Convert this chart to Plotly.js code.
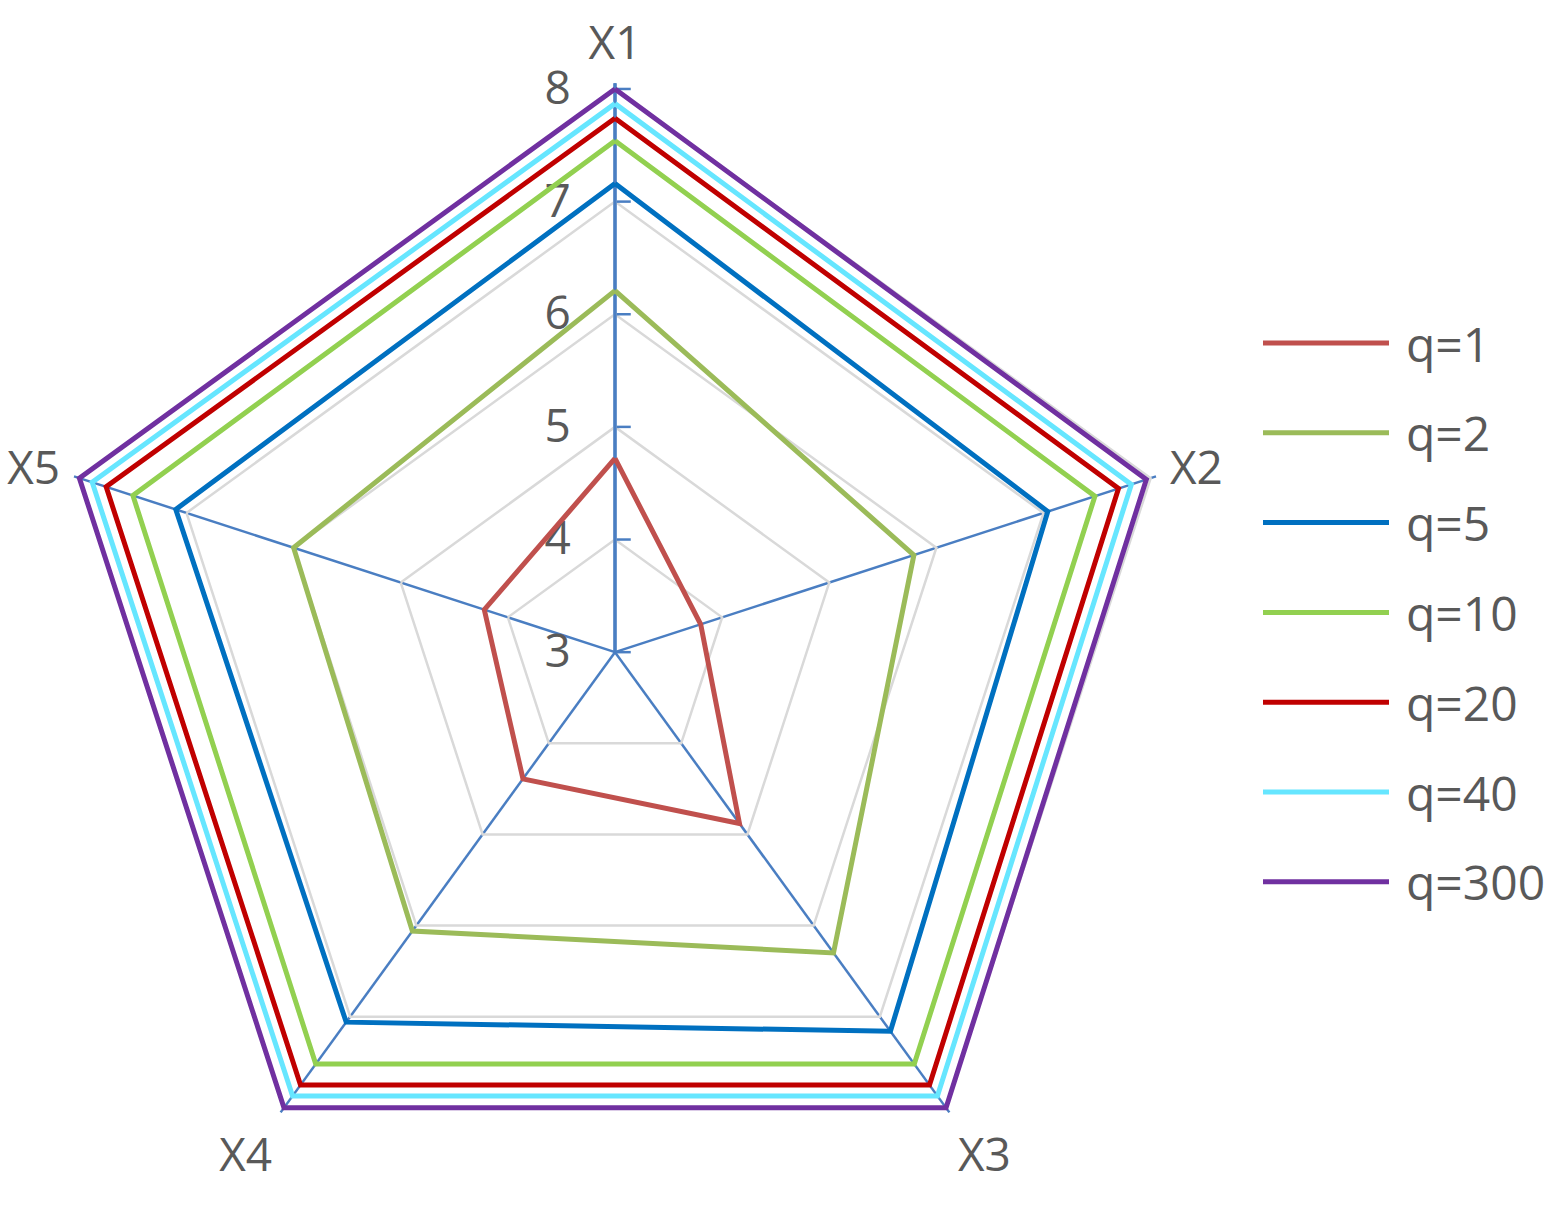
<!DOCTYPE html>
<html>
<head>
<meta charset="utf-8">
<script src="https://cdn.plot.ly/plotly-3.0.1.min.js"></script>
<style>
  html, body { margin: 0; padding: 0; background: #fff; overflow: hidden; }
  #radar { width: 1561px; height: 1221px; }
</style>
</head>
<body>
<div id="radar"></div>
<script>
// axes of the radar
var categories = ['X1', 'X2', 'X3', 'X4', 'X5'];

// values, one list per q
var q1   = [4.72, 3.80, 4.88, 4.39, 4.22];
var q2   = [6.21, 5.79, 6.30, 6.06, 6.00];
var q5   = [7.16, 7.04, 7.16, 7.06, 7.10];
var q10  = [7.54, 7.48, 7.52, 7.52, 7.50];
var q20  = [7.74, 7.70, 7.75, 7.75, 7.75];
var q40  = [7.87, 7.82, 7.87, 7.87, 7.88];
var q300 = [8.00, 7.96, 8.00, 8.00, 8.00];

var seriesNames = ['q=1', 'q=2', 'q=5', 'q=10', 'q=20', 'q=40', 'q=300'];
var seriesValues = [q1, q2, q5, q10, q20, q40, q300];
var seriesColors = ['#C0504D', '#9BBB59', '#0070C0', '#92D050', '#C00000', '#66E6FF', '#7030A0'];

var radialTicks = [3, 4, 5, 6, 7, 8];
var radialRange = [3, 8.05]; // a little headroom so the r=8 line is not clipped

var textColor = '#595959';
var axisBlue = '#4A7EC2';
var fontFam = '"Open Sans", "Liberation Sans", sans-serif';

// invisible trailing digit pushes the tick numbers away from the axis line
var radialText = radialTicks.map(function (v) {
  return v + '<span style="color:rgba(0,0,0,0)">0</span>';
});

// plot is a bit taller than the window so the pentagon sits where it should
var W = 1561, H = 1221, CX = 615;
var R = 566 * (radialRange[1] - radialRange[0]) / 5;

var data = [];
for (var i = 0; i < seriesNames.length; i++) {
  var vals = seriesValues[i];
  data.push({
    type: 'scatterpolar',
    mode: 'lines',
    name: seriesNames[i],
    r: vals.concat([vals[0]]),
    theta: categories.concat([categories[0]]),
    line: {color: seriesColors[i], width: 5},
    cliponaxis: false,
    hoverinfo: 'skip',
    showlegend: false
  });
}

// legend drawn by hand so the long line samples fit
var shapes = [];
var annotations = [];
for (var j = 0; j < seriesNames.length; j++) {
  var yy = (H - 343 - j * 89.8) / H;
  shapes.push({
    type: 'line', xref: 'paper', yref: 'paper',
    x0: 1263 / W, x1: 1389 / W, y0: yy, y1: yy,
    line: {color: seriesColors[j], width: 5}
  });
  annotations.push({
    xref: 'paper', yref: 'paper', x: 1404 / W, y: yy,
    xanchor: 'left', yanchor: 'middle', showarrow: false,
    text: seriesNames[j],
    font: {family: fontFam, size: 48, color: textColor}
  });
}

var layout = {
  width: W,
  height: H,
  margin: {l: 0, r: 0, t: 0, b: 0},
  paper_bgcolor: '#fff',
  showlegend: false,
  font: {family: fontFam, color: textColor},
  polar: {
    domain: {x: [(CX - R) / W, (CX + R) / W], y: [(H - 655 - R) / H, (H - 655 + R) / H]},
    bgcolor: '#fff',
    gridshape: 'linear',
    angularaxis: {
      direction: 'clockwise',
      rotation: 90,
      showline: false,
      ticks: 'outside',
      ticklen: 5,
      tickcolor: 'rgba(0,0,0,0)',
      gridcolor: axisBlue,
      gridwidth: 2.5,
      tickfont: {family: fontFam, size: 46, color: textColor},
      layer: 'below traces'
    },
    radialaxis: {
      range: radialRange,
      angle: 90,
      side: 'counterclockwise',
      tickvals: radialTicks,
      ticktext: radialText,
      tickangle: 90,
      ticks: 'inside',
      ticklen: 14,
      tickwidth: 2.5,
      tickcolor: axisBlue,
      showline: true,
      linecolor: axisBlue,
      linewidth: 3.5,
      gridcolor: '#D9D9D9',
      gridwidth: 2.5,
      tickfont: {family: fontFam, size: 46, color: textColor},
      layer: 'below traces'
    }
  },
  shapes: shapes,
  annotations: annotations
};

Plotly.newPlot('radar', data, layout, {displayModeBar: false, staticPlot: true});
</script>
</body>
</html>
